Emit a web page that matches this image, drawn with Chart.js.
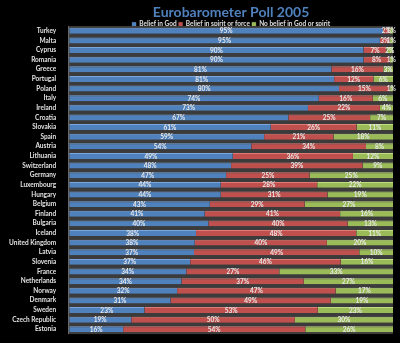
<!DOCTYPE html>
<html>
<head>
<meta charset="utf-8">
<script src="https://cdn.jsdelivr.net/npm/chart.js@4/dist/chart.umd.min.js"></script>
<style>
  body { margin: 0; background: #000; }
  #wrap { width: 400px; height: 343px; }
</style>
</head>
<body>
<div id="wrap"><canvas id="poll"></canvas></div>
<script>
var countries = ["Turkey", "Malta", "Cyprus", "Romania", "Greece", "Portugal", "Poland", "Italy",
  "Ireland", "Croatia", "Slovakia", "Spain", "Austria", "Lithuania", "Switzerland", "Germany",
  "Luxembourg", "Hungary", "Belgium", "Finland", "Bulgaria", "Iceland", "United Kingdom", "Latvia",
  "Slovenia", "France", "Netherlands", "Norway", "Denmark", "Sweden", "Czech Republic", "Estonia"];
var god    = [95, 95, 90, 90, 81, 81, 80, 74, 73, 67, 61, 59, 54, 49, 48, 47, 44, 44, 43, 41, 40, 38, 38, 37, 37, 34, 34, 32, 31, 23, 19, 16];
var spirit = [2, 3, 7, 8, 16, 12, 15, 16, 22, 25, 26, 21, 34, 36, 39, 25, 28, 31, 29, 41, 40, 48, 40, 49, 46, 27, 37, 47, 49, 53, 50, 54];
var none   = [1, 1, 2, 1, 3, 6, 1, 6, 4, 7, 11, 18, 8, 12, 9, 25, 22, 19, 27, 16, 13, 11, 20, 10, 16, 33, 27, 17, 19, 23, 30, 26];
var seriesNames = ["Belief in God", "Belief in spirit or force", "No belief in God or spirit"];

// 100% stacked: each bar is scaled to its row total
function share(arr) {
  return arr.map(function (v, i) { return v / (god[i] + spirit[i] + none[i]) * 100; });
}

var plotBack = {
  id: "plotBack",
  beforeDraw: function (chart) {
    var a = chart.chartArea, c = chart.ctx;
    c.save();
    c.fillStyle = "#3b3b3b";
    c.fillRect(a.left, a.top, a.right - a.left, a.bottom - a.top);
    c.strokeStyle = "#808080";
    c.lineWidth = 1;
    c.beginPath();
    c.moveTo(a.left - 0.5, a.top);
    c.lineTo(a.left - 0.5, a.bottom);
    c.stroke();
    c.restore();
  }
};

var barLabels = {
  id: "barLabels",
  afterDatasetsDraw: function (chart) {
    var c = chart.ctx;
    c.save();
    c.font = "bold 6.5px Lato";
    c.textAlign = "center";
    c.textBaseline = "middle";
    c.fillStyle = "#e8e8e8";
    chart.data.datasets.forEach(function (ds, d) {
      chart.getDatasetMeta(d).data.forEach(function (bar, i) {
        var x = (bar.x + bar.base) / 2;
        c.fillText(ds.raw[i] + "%", x, bar.y + 0.5);
      });
    });
    c.restore();
  }
};

var ctx = document.getElementById("poll").getContext("2d");
new Chart(ctx, {
  type: "bar",
  data: {
    labels: countries,
    datasets: [
      { label: seriesNames[0], data: share(god), raw: god, backgroundColor: "#4f81bd", borderColor: "#7aa5dd", borderWidth: { top: 1 } },
      { label: seriesNames[1], data: share(spirit), raw: spirit, backgroundColor: "#c0504d", borderColor: "#e07a77", borderWidth: { top: 1 } },
      { label: seriesNames[2], data: share(none), raw: none, backgroundColor: "#9bbb59", borderColor: "#c0dc80", borderWidth: { top: 1 } }
    ]
  },
  options: {
    indexAxis: "y",
    responsive: true,
    maintainAspectRatio: false,
    animation: false,
    layout: { padding: { left: 4, right: 7, bottom: 7, top: 0 } },
    datasets: { bar: { categoryPercentage: 0.62, barPercentage: 1 } },
    scales: {
      x: { stacked: true, min: 0, max: 100, display: false },
      y: {
        stacked: true,
        grid: { display: false },
        border: { display: false },
        ticks: { color: "#e0e0e0", font: { size: 6.5, weight: "bold", family: "Lato" }, padding: 5, autoSkip: false }
      }
    },
    plugins: {
      title: {
        display: true,
        fullSize: false,
        text: "Eurobarometer Poll 2005",
        color: "#4f81bd",
        font: { size: 14, weight: "bold", family: "Lato", lineHeight: 1 },
        padding: { top: 5, bottom: 0 }
      },
      legend: {
        fullSize: false,
        maxHeight: 7,
        labels: {
          color: "#e0e0e0",
          boxWidth: 4,
          boxHeight: 4,
          padding: 2,
          font: { size: 6.5, weight: "bold", family: "Lato" }
        }
      },
      tooltip: { enabled: false }
    }
  },
  plugins: [plotBack, barLabels]
});
</script>
</body>
</html>
